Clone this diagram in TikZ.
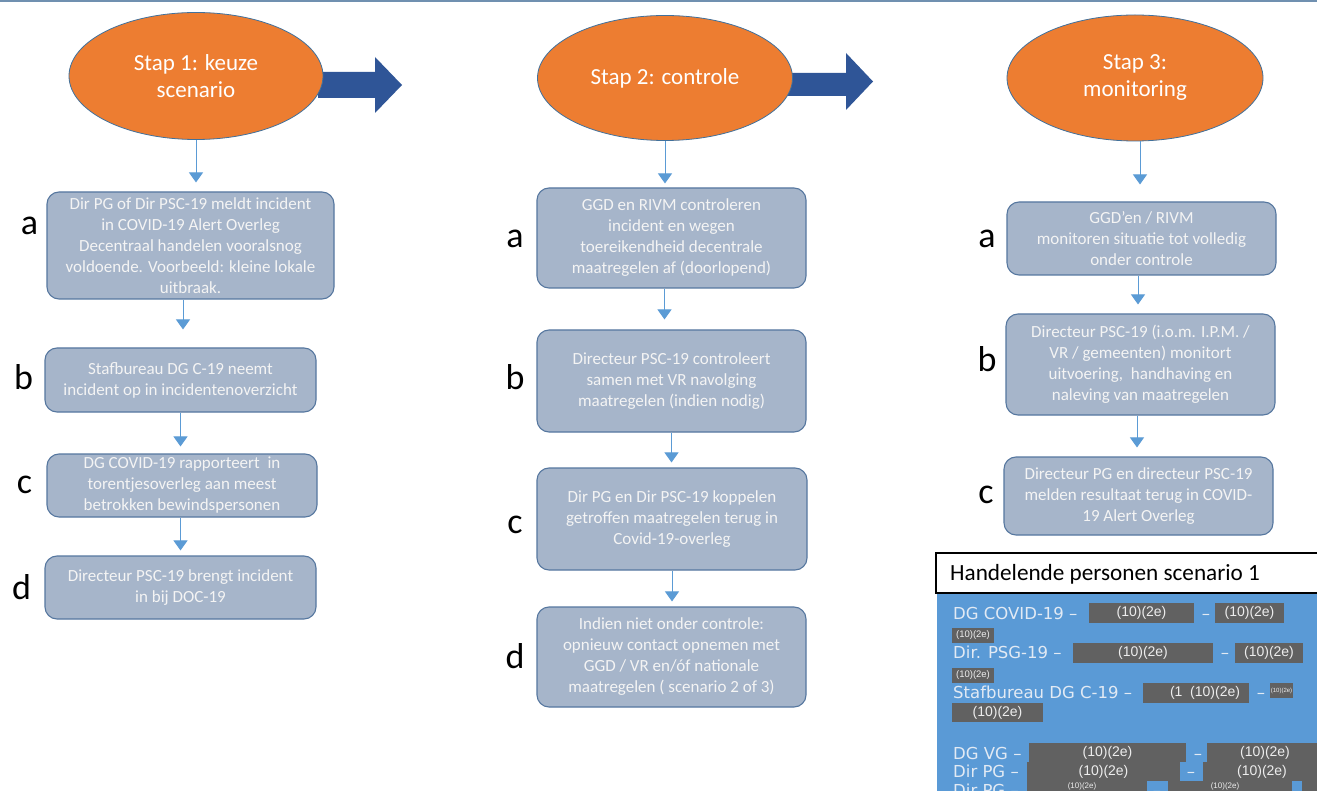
\documentclass[tikz,border=0pt]{standalone}
\usepackage{fontspec}
\setmainfont{Carlito}
\newfontfamily\panelfont{DejaVu Sans}
\newfontfamily\grayfont{Liberation Sans}
\usetikzlibrary{arrows.meta,shapes.geometric}
\definecolor{orangeE}{HTML}{ED7D31}
\definecolor{ellborder}{HTML}{41719C}
\definecolor{boxfill}{HTML}{A6B5CA}
\definecolor{boxborder}{HTML}{56779F}
\definecolor{boxtext}{HTML}{F4F4F4}
\definecolor{connblue}{HTML}{5B9BD5}
\definecolor{arrowblue}{HTML}{2F5597}
\definecolor{topline}{HTML}{7090B0}
\definecolor{panelblue}{HTML}{5A9AD6}
\definecolor{paneltext}{HTML}{E2EAF4}
\definecolor{grayblk}{HTML}{616161}
\definecolor{graytext}{HTML}{EDEDED}
\tikzset{
  stepbox/.style={draw=boxborder, fill=boxfill, rounded corners=12pt, line width=1.1pt,
    text=boxtext, align=center, font=\fontsize{17}{21}\selectfont, inner sep=0pt},
  stapell/.style={ellipse, draw=ellborder, fill=orangeE, line width=0.8pt, text=white,
    align=center, font=\fontsize{23}{27}\selectfont, inner sep=0pt},
  conn/.style={draw=connblue, line width=1pt, -{Triangle[width=14pt,length=10pt]}},
  lbl/.style={font=\fontsize{36}{36}\selectfont, anchor=base, inner sep=0pt},
  ptext/.style={font=\panelfont\fontsize{16.5}{18}\selectfont, text=paneltext, anchor=base west, inner sep=0pt},
  pdash/.style={font=\panelfont\fontsize{16.5}{18}\selectfont, text=paneltext, anchor=base, inner sep=0pt},
  gbox/.style={fill=grayblk, text=graytext, inner sep=0pt, font=\grayfont\fontsize{14}{14}\selectfont},
  gtext/.style={text=graytext, inner sep=0pt, font=\grayfont\fontsize{8}{8}\selectfont}
}
\begin{document}
\begin{tikzpicture}[x=1pt,y=-1pt]
\useasboundingbox (0,0) rectangle (1317,791);
\fill[white] (0,0) rectangle (1317,791);
\draw[topline, line width=1.5pt] (0,1) -- (1317,1);

% block arrows
\fill[arrowblue] (318,72) -- (375,72) -- (375,57) -- (402,85) -- (375,113) -- (375,98) -- (318,98) -- cycle;
\fill[arrowblue] (785,73) -- (846,73) -- (846,53) -- (873,81.5) -- (846,110) -- (846,96) -- (785,96) -- cycle;

% stap ellipses
\node[stapell, minimum width=254pt, minimum height=127pt] (s1) at (196,76) {Stap 1: keuze\\scenario};
\node[stapell, minimum width=255pt, minimum height=125pt] (s2) at (665,78) {Stap 2: controle};
\node[stapell, minimum width=256pt, minimum height=126pt] (s3) at (1135,78) {Stap 3:\\monitoring};

% column 1
\node[stepbox, minimum width=287pt, minimum height=107pt] (c1a) at (190.5,245.5)
  {Dir PG of Dir PSC-19 meldt incident\\in COVID-19 Alert Overleg\\Decentraal handelen vooralsnog\\voldoende. Voorbeeld: kleine lokale\\uitbraak.};
\node[stepbox, minimum width=271pt, minimum height=64pt] (c1b) at (180.5,380)
  {Stafbureau DG C-19 neemt\\incident op in incidentenoverzicht};
\node[stepbox, minimum width=270pt, minimum height=63pt] (c1c) at (182,485.5)
  {DG COVID-19 rapporteert\ \ in\\torentjesoverleg aan meest\\betrokken bewindspersonen};
\node[stepbox, minimum width=271pt, minimum height=63pt] (c1d) at (180.5,587.5)
  {Directeur PSC-19 brengt incident\\in bij DOC-19};

% column 2
\node[stepbox, minimum width=269pt, minimum height=100pt] (c2a) at (671.5,238)
  {GGD en RIVM controleren\\incident en wegen\\toereikendheid decentrale\\maatregelen af (doorlopend)};
\node[stepbox, minimum width=269pt, minimum height=102pt] (c2b) at (671.5,381)
  {Directeur PSC-19 controleert\\samen met VR navolging\\maatregelen (indien nodig)};
\node[stepbox, minimum width=270pt, minimum height=102pt] (c2c) at (672,519)
  {Dir PG en Dir PSC-19 koppelen\\getroffen maatregelen terug in\\Covid-19-overleg};
\node[stepbox, minimum width=269pt, minimum height=100pt] (c2d) at (671.5,657)
  {Indien niet onder controle:\\opnieuw contact opnemen met\\GGD / VR en/óf nationale\\maatregelen ( scenario 2 of 3)};

% column 3
\node[stepbox, minimum width=269pt, minimum height=73pt] (c3a) at (1141.5,238.5)
  {GGD’en / RIVM\\monitoren situatie tot volledig\\onder controle};
\node[stepbox, minimum width=269pt, minimum height=101pt] (c3b) at (1140.5,364.5)
  {Directeur PSC-19 (i.o.m. I.P.M. /\\VR / gemeenten) monitort\\uitvoering,\ \ handhaving en\\naleving van maatregelen};
\node[stepbox, minimum width=269pt, minimum height=78pt] (c3c) at (1138.5,496)
  {Directeur PG en directeur PSC-19\\melden resultaat terug in COVID-\\19 Alert Overleg};

% connectors
\draw[conn, shorten >=9pt] (s1.south) -- (s1.south |- c1a.north);
\draw[conn, shorten >=18pt] ([xshift=2.5pt]c1b.north |- c1a.south) -- ([xshift=2.5pt]c1b.north);
\draw[conn, shorten >=7pt] (c1b.south) -- (c1b.south |- c1c.north);
\draw[conn, shorten >=5pt] (c1d.north |- c1c.south) -- (c1d.north);
\draw[conn, shorten >=4pt] (s2.south) -- (s2.south |- c2a.north);
\draw[conn, shorten >=10pt] ([xshift=-7pt]c2a.south) -- ([xshift=-7pt]c2b.north);
\draw[conn, shorten >=5pt] (c2b.south) -- (c2b.south |- c2c.north);
\draw[conn, shorten >=5pt] (c2c.south) -- (c2c.south |- c2d.north);
\draw[conn, shorten >=17pt] ([xshift=5pt]s3.south) -- ([xshift=5pt]s3.south |- c3a.north);
\draw[conn, shorten >=9pt] ([xshift=-3.5pt]c3a.south) -- ([xshift=-3.5pt]c3a.south |- c3b.north);
\draw[conn, shorten >=9pt] ([xshift=-3.5pt]c3b.south) -- ([xshift=-3.5pt]c3b.south |- c3c.north);

% letters
\node[lbl] (l1a) at (29.5,235) {a};
\node[lbl] (l1b) at (23.5,390) {b};
\node[lbl] (l1c) at (24.5,493) {c};
\node[lbl] (l1d) at (21.5,599) {d};
\node[lbl] (l2a) at (515,248) {a};
\node[lbl] (l2b) at (515,390) {b};
\node[lbl] (l2c) at (515,533) {c};
\node[lbl] (l2d) at (515,668) {d};
\node[lbl] (l3a) at (987,248) {a};
\node[lbl] (l3b) at (987,372) {b};
\node[lbl] (l3c) at (986,503) {c};

% panel
\begin{scope}
\clip (0,0) rectangle (1317,791);
\fill[panelblue] (937,593) rectangle (1320,795);
\draw[black, line width=1.5pt, fill=white] (936,553) rectangle (1325,593);
\node[anchor=base west, inner sep=0pt, font=\fontsize{23.2}{27}\selectfont] (ph) at (950,580.5) {Handelende personen scenario 1};

\node[ptext] (r1) at (953,619) {DG COVID-19 –};
\node[gbox, minimum width=105pt, minimum height=20pt] (r1a) at (1141.5,613) {(10)(2e)};
\node[pdash] (r1d) at (1206,619) {–};
\node[gbox, minimum width=69pt, minimum height=20pt] (r1b) at (1249.5,613) {(10)(2e)};
\node[gbox, minimum width=42pt, minimum height=15pt, font=\grayfont\fontsize{9.5}{9.5}\selectfont] (s1x) at (973,635.5) {(10)(2e)};

\node[ptext] (r2) at (953,658) {Dir. PSG-19 –};
\node[gbox, minimum width=140pt, minimum height=20pt] (r2a) at (1143,653) {(10)(2e)};
\node[pdash] (r2d) at (1225,658) {–};
\node[gbox, minimum width=68pt, minimum height=20pt] (r2b) at (1269,653) {(10)(2e)};
\node[gbox, minimum width=42pt, minimum height=15pt, font=\grayfont\fontsize{9.5}{9.5}\selectfont] (s2x) at (973,675.5) {(10)(2e)};

\node[ptext] (r3) at (953,698) {Stafbureau DG C-19 –};
\node[gbox, minimum width=106pt, minimum height=20pt] (r3a) at (1196,693) {\hspace*{18pt}(1\ \ (10)(2e)};
\node[pdash] (r3d) at (1261,698) {–};
\node[gbox, minimum width=23pt, minimum height=15pt, font=\grayfont\fontsize{6}{6}\selectfont] (r3b) at (1281.5,690.5) {(10)(2e)};
\node[gbox, minimum width=91pt, minimum height=19pt] (r4a) at (997.5,712.5) {(10)(2e)};

\node[ptext] (r5) at (953,759) {DG VG –};
\node[gbox, minimum width=157pt, minimum height=19pt] (r5a) at (1107.5,752.5) {(10)(2e)};
\node[pdash] (r5d) at (1198,759) {–};
\node[gbox, minimum width=116pt, minimum height=19pt] (r5b) at (1265,752.5) {(10)(2e)};

\node[ptext] (r6) at (953,777) {Dir PG –};
\node[gbox, minimum width=153pt, minimum height=19pt] (r6a) at (1103.5,771.5) {(10)(2e)};
\node[pdash] (r6d) at (1191,777) {–};
\node[gbox, minimum width=118pt, minimum height=19pt] (r6b) at (1262,771.5) {(10)(2e)};

\node[ptext] (r7) at (953,796) {Dir PG –};
\node[gbox, minimum width=120pt, minimum height=19pt] (r7a) at (1087,790.5) {};
\node[pdash] (r7d) at (1157,796) {–};
\node[gbox, minimum width=124pt, minimum height=19pt] (r7b) at (1230,790.5) {};
\node[gbox, minimum width=20pt, minimum height=19pt] (r7c) at (1312,790.5) {};
\node[gtext] (r7at) at (1082,786) {(10)(2e)};
\node[gtext] (r7bt) at (1225,786) {(10)(2e)};
\end{scope}
\end{tikzpicture}
\end{document}
